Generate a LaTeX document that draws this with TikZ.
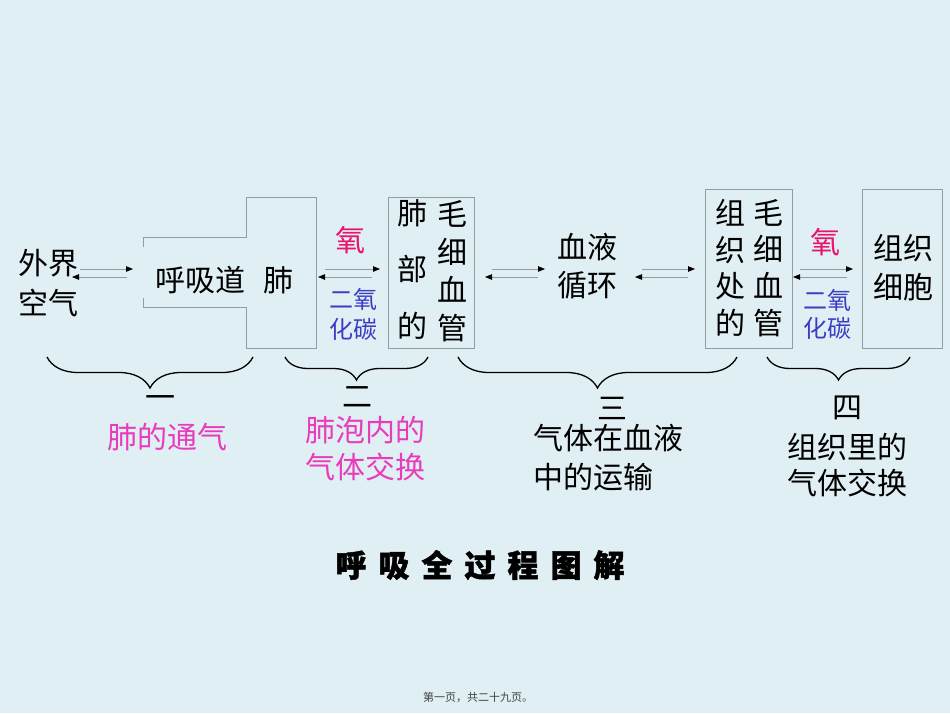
\documentclass[tikz,border=0pt]{standalone}
\usepackage{fontspec}
\setmainfont{Noto Sans CJK SC}
\usetikzlibrary{arrows.meta,decorations.pathreplacing}
\definecolor{bg}{HTML}{E0EFF3}
\definecolor{edge}{HTML}{909EA2}
\definecolor{oxy}{HTML}{E8146E}
\definecolor{co2}{HTML}{3C3CC4}
\definecolor{pinklab}{HTML}{E83CBC}
\begin{document}
\begin{tikzpicture}[x=1pt,y=-1pt,
  txt/.style={font=\fontsize{30}{38}\selectfont, inner sep=0pt, align=center},
  smalltxt/.style={font=\fontsize{24}{30}\selectfont, inner sep=0pt, align=center, text=co2},
  oxytxt/.style={font=\fontsize{30}{36}\selectfont, inner sep=0pt, text=oxy},
  labtxt/.style={font=\fontsize{30}{37}\selectfont, inner sep=0pt, align=center, text=pinklab},
  boxe/.style={draw=edge, line width=0.7pt, inner sep=0pt},
  arr/.style={draw=edge, line width=0.8pt, -{Triangle[color=black,length=7pt,width=5.5pt]}},
  brc/.style={decorate, decoration={brace,mirror,amplitude=31pt}, line width=1.3pt}]
\fill[bg] (0,0) rectangle (950,713);
\useasboundingbox (0,0) rectangle (950,713);

% outside air and airway / lung
\node[txt, font=\fontsize{30}{40}\selectfont] (air) at (48,283) {外界\\空气};
\node[txt] (airway) at (200,280) {呼吸道};
\node[txt] (lung) at (278,280) {肺};
\draw[edge, line width=0.7pt] (143,247) -- (143,237) -- (246,237) -- (246,197) -- (316,197)
  -- (316,348) -- (246,348) -- (246,307) -- (143,307) -- (143,298);

% alveolar capillaries box
\node[boxe, minimum width=86, minimum height=151] (cap1) at (431,272.5) {};
\node[txt, font=\fontsize{30}{56.5}\selectfont] (cap1l) at (412,269.5) {肺\\部\\的};
\node[txt] (cap1r) at (452,271) {毛\\细\\血\\管};

% blood circulation
\node[txt] (blood) at (587,266) {血液\\循环};

% tissue capillaries box
\node[boxe, minimum width=87, minimum height=159] (cap2) at (748.5,268.5) {};
\node[txt, font=\fontsize{30}{36.7}\selectfont] (cap2l) at (730,268) {组\\织\\处\\的};
\node[txt, font=\fontsize{30}{36.7}\selectfont] (cap2r) at (768,268) {毛\\细\\血\\管};

% tissue cells box
\node[boxe, minimum width=80, minimum height=159] (cell) at (902,268.5) {};
\node[txt, font=\fontsize{30}{39}\selectfont] (celltxt) at (903,267.5) {组织\\细胞};

% gas labels
\node[oxytxt] (o2a) at (350,240) {氧};
\node[smalltxt] (co2a) at (353,314) {二氧\\化碳};
\node[oxytxt] (o2b) at (825,242) {氧};
\node[smalltxt, font=\fontsize{24}{28}\selectfont] (co2b) at (827,314) {二氧\\化碳};

% arrow end points
\coordinate (a1s) at (80,269);  \coordinate (a1e) at (133,269);
\coordinate (b1s) at (127,277); \coordinate (b1e) at (72,277);
\coordinate (a2s) at (325,269); \coordinate (a2e) at (380,269);
\coordinate (b2s) at (372,277); \coordinate (b2e) at (318,277);
\coordinate (a3s) at (492,269); \coordinate (a3e) at (545,269);
\coordinate (b3s) at (538,277); \coordinate (b3e) at (485,277);
\coordinate (a4s) at (642,269); \coordinate (a4e) at (695,269);
\coordinate (b4s) at (688,277); \coordinate (b4e) at (635,277);
\coordinate (a5s) at (800,269); \coordinate (a5e) at (853,269);
\coordinate (b5s) at (847,277); \coordinate (b5e) at (793,277);
\foreach \i in {1,...,5}{
  \draw[arr] (a\i s) -- (a\i e);
  \draw[arr] (b\i s) -- (b\i e);
}

% braces
\coordinate (br1s) at (47,357);  \coordinate (br1e) at (253,357);
\coordinate (br2s) at (285,357); \coordinate (br2e) at (428,357);
\coordinate (br3s) at (458,357); \coordinate (br3e) at (737,357);
\coordinate (br4s) at (767,357); \coordinate (br4e) at (910,357);
\draw[brc] (br1s) -- (br1e);
\draw[brc, decoration={amplitude=23pt}] (br2s) -- (br2e);
\draw[brc] (br3s) -- (br3e);
\draw[brc, decoration={amplitude=23pt}] (br4s) -- (br4e);

% stage labels
\node[txt] (n1) at (160,402) {一};
\node[labtxt] (l1) at (167,437) {肺的通气};
\node[txt] (n2) at (357,397) {二};
\node[labtxt] (l2) at (365,448.5) {肺泡内的\\气体交换};
\node[txt] (n3) at (612,408) {三};
\node[txt, font=\fontsize{30}{39}\selectfont, align=left, anchor=west] (l3) at (533,457.5) {气体在血液\\中的运输};
\node[txt] (n4) at (847,408) {四};
\node[txt, font=\fontsize{30}{36}\selectfont] (l4) at (847,465) {组织里的\\气体交换};

% title and footer
\node[inner sep=0pt, font=\fontsize{31}{36}\selectfont\bfseries\addfontfeature{FakeBold=1.5}] (title) at (480,565)
  {呼\kern12pt 吸\kern12pt 全\kern12pt 过\kern12pt 程\kern12pt 图\kern12pt 解};
\node[inner sep=0pt, font=\fontsize{11}{13}\selectfont, text=black!75] (footer) at (478,697) {第一页，共二十九页。};
\end{tikzpicture}
\end{document}
